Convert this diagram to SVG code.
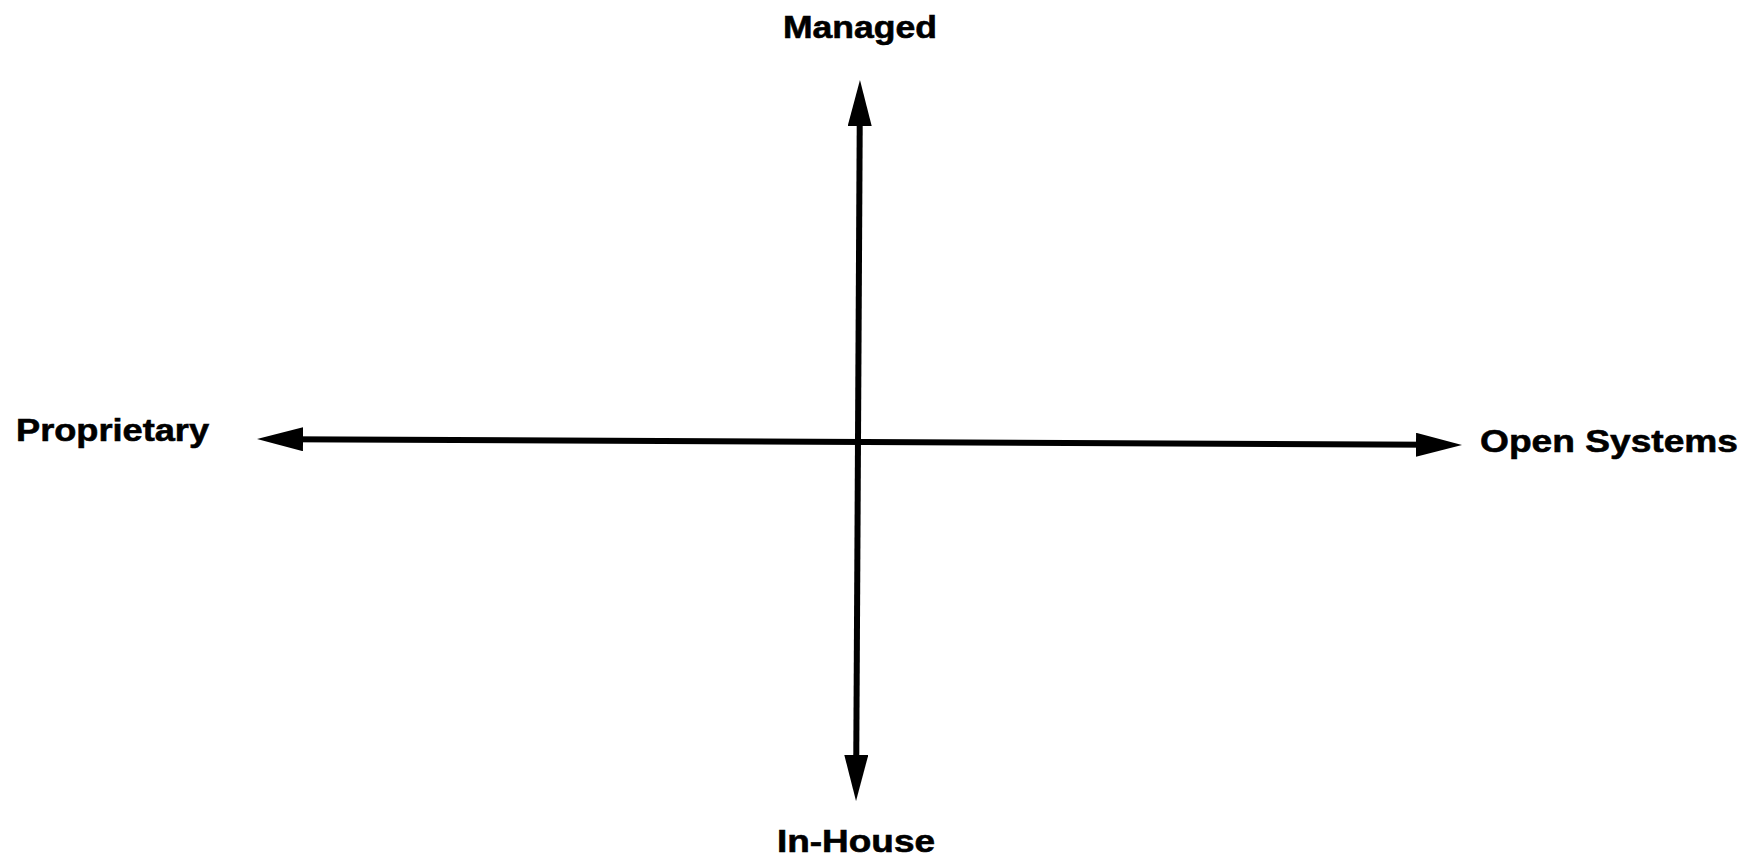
<svg xmlns="http://www.w3.org/2000/svg" width="1754" height="859" viewBox="0 0 1754 859">
<style>
.lbl{font-family:"Liberation Sans",Arial,sans-serif;font-weight:bold;font-size:32px;fill:#000;stroke:#000;stroke-width:0.6}
.axis{stroke:#000;stroke-width:6;fill:none}
</style>
<defs>
<marker id="ah" markerUnits="userSpaceOnUse" markerWidth="46" markerHeight="24" refX="16" refY="12" orient="auto-start-reverse" viewBox="0 0 46 24">
<path d="M0,0 L46,12 L0,24 z" fill="#000"/>
</marker>
</defs>
<rect width="1754" height="859" fill="#fff"/>
<g id="connectors">
<line class="axis" x1="859.8" y1="110" x2="856.2" y2="771" marker-start="url(#ah)" marker-end="url(#ah)"/>
<line class="axis" x1="287" y1="439.15" x2="1432" y2="444.85" marker-start="url(#ah)" marker-end="url(#ah)"/>
</g>
<g id="managed"><text class="lbl" x="783" y="38" textLength="154" lengthAdjust="spacingAndGlyphs">Managed</text></g>
<g id="inhouse"><text class="lbl" x="777" y="852" textLength="158" lengthAdjust="spacingAndGlyphs">In-House</text></g>
<g id="proprietary"><text class="lbl" x="16" y="441" textLength="193" lengthAdjust="spacingAndGlyphs">Proprietary</text></g>
<g id="opensystems"><text class="lbl" x="1480" y="452" textLength="258" lengthAdjust="spacingAndGlyphs">Open Systems</text></g>
</svg>
